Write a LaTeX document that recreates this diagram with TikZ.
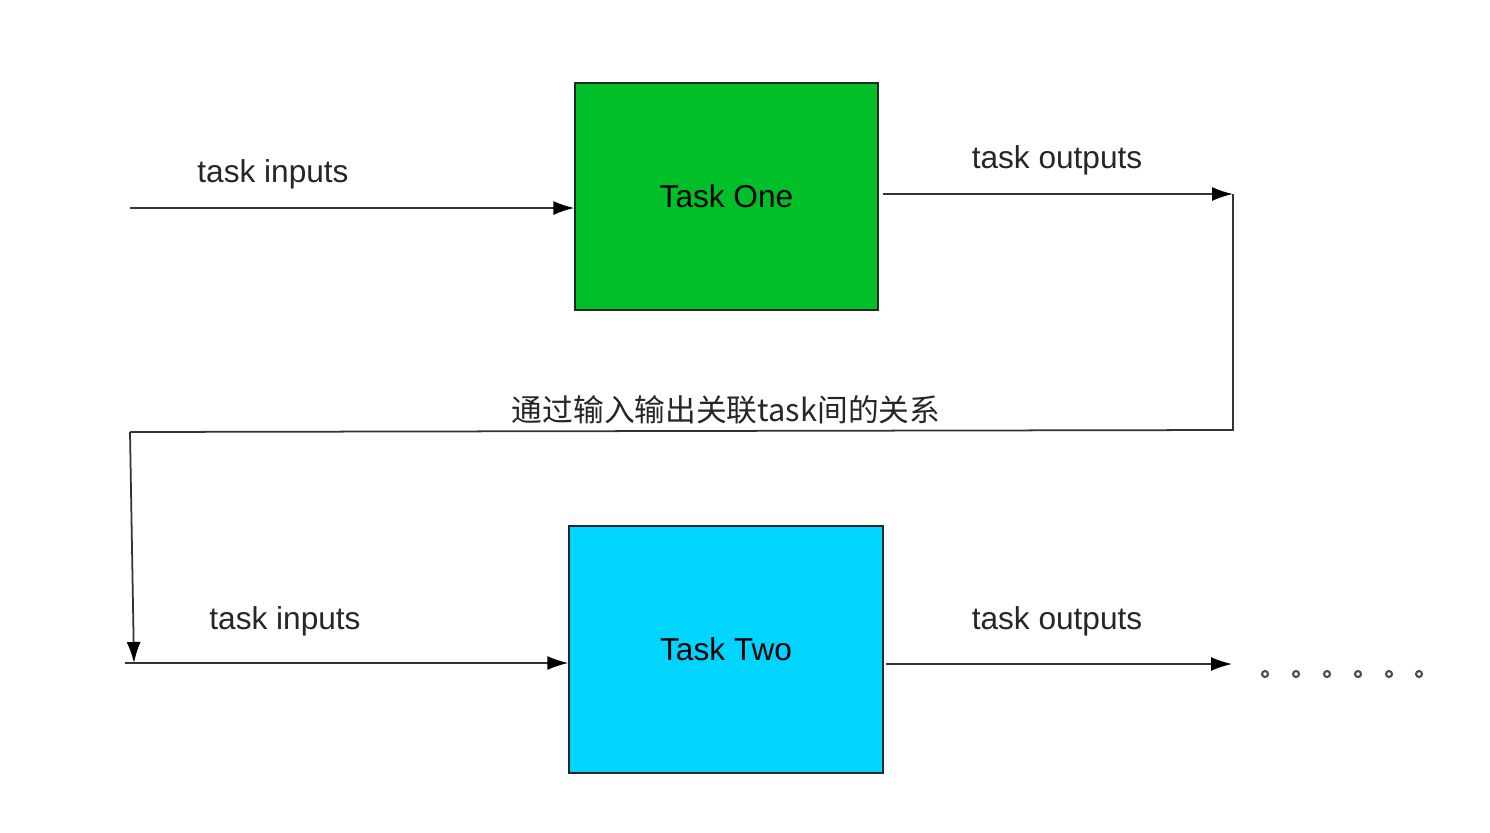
\documentclass[tikz,border=0pt]{standalone}
\usepackage{fontspec}
\setmainfont{Liberation Sans}
\newfontfamily\cjk{Noto Sans CJK SC}
\usetikzlibrary{positioning,arrows.meta}
\definecolor{taskgreen}{RGB}{0,192,42}
\definecolor{taskcyan}{RGB}{0,213,255}
\tikzset{
block/.style={
draw=black!85,
thick,
inner sep=0pt},
line/.style={-{Latex[length=0.42cm,width=0.28cm,color=black]},line width=1pt,draw=black!80},
wire/.style={line width=1pt,draw=black!80},
font={\fontsize{18pt}{22}\selectfont}
}
\begin{document}
\begin{tikzpicture}[x=0.02cm,y=-0.02cm]
  \useasboundingbox (0,0) rectangle (1490,832);
  \node[block, fill=taskgreen, minimum width=6.06cm, minimum height=4.54cm] (one) at (726.5,196.5) {Task One};
  \node[block, fill=taskcyan, minimum width=6.28cm, minimum height=4.94cm] (two) at (726,649.5) {Task Two};
  \coordinate (in1) at (130,208);
  \coordinate (c1) at (1233,194);
  \coordinate (c2) at (1233,430);
  \coordinate (c3) at (130,432);
  \coordinate (c4) at (134,663);
  \coordinate (in2) at (125,663);
  \coordinate (out2) at (1232,664);
  \draw[line] (in1)-- (in1 -| one.west);
  \draw[line] ([xshift=0.08cm] one.east |- c1)-- (c1);
  \draw[wire] (c1)-- (c2)-- (c3);
  \draw[line] (c3)-- (c4);
  \draw[line] (in2)-- (in2 -| two.west);
  \draw[line] ([xshift=0.04cm] two.east |- out2)-- (out2);
  \node[text=black!85] (lbl_in1) at (273,174) {task inputs};
  \node[text=black!85] (lbl_out1) at (1057,160) {task outputs};
  \node[text=black!85] (lbl_rel) at (726,410) {\cjk\fontsize{17.5pt}{21}\selectfont 通过输入输出关联task间的关系};
  \node[text=black!85] (lbl_in2) at (285,621) {task inputs};
  \node[text=black!85] (lbl_out2) at (1057,621) {task outputs};
  \foreach \x in {1265,1296,1327,1358,1389,1419}
    \draw[line width=1.2pt,draw=black!70] (\x,674) circle (0.06cm);
\end{tikzpicture}
\end{document}
